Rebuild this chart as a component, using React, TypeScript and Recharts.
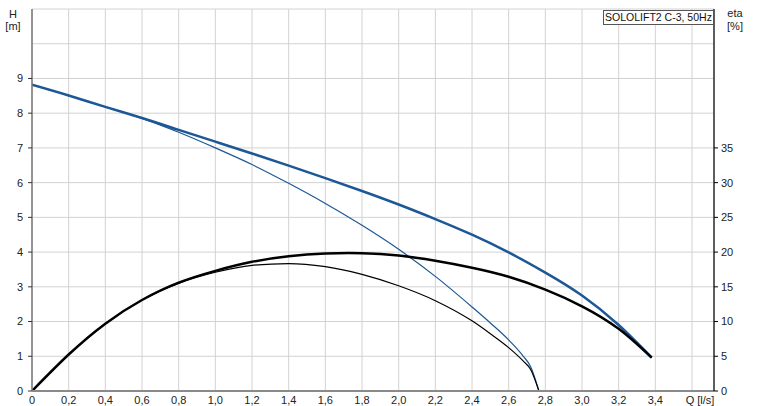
import React from 'react';
import { LineChart, Line, XAxis, YAxis, CartesianGrid, ReferenceLine } from 'recharts';

// Thick curves (QH and efficiency, full-range)
const qThick = [0, 0.2, 0.4, 0.6, 0.8, 1.0, 1.2, 1.4, 1.6, 1.8, 2.0, 2.2, 2.4, 2.6, 2.8, 3.0, 3.2, 3.38];
const hThick = [8.82, 8.51, 8.18, 7.86, 7.52, 7.18, 6.84, 6.49, 6.13, 5.76, 5.37, 4.95, 4.5, 3.99, 3.41, 2.75, 1.9, 0.96];
const etaThick = [0, 5.25, 9.7, 13.1, 15.6, 17.3, 18.6, 19.4, 19.8, 19.85, 19.5, 18.75, 17.75, 16.45, 14.6, 12.2, 8.95, 4.8];

// Thin curves
const qThin = [0, 0.2, 0.4, 0.6, 0.8, 1.0, 1.2, 1.4, 1.6, 1.8, 2.0, 2.2, 2.4, 2.5, 2.6, 2.68, 2.72, 2.765];
const hThin = [8.82, 8.51, 8.18, 7.85, 7.45, 7.0, 6.52, 5.98, 5.4, 4.77, 4.08, 3.3, 2.42, 1.96, 1.47, 1.0, 0.7, 0];
const etaThin = [0, 5.25, 9.7, 13.1, 15.5, 17.1, 18.1, 18.35, 17.9, 16.8, 15.15, 13.0, 10.1, 8.25, 6.25, 4.3, 3.1, 0];

const qTicks = [0, 0.2, 0.4, 0.6, 0.8, 1.0, 1.2, 1.4, 1.6, 1.8, 2.0, 2.2, 2.4, 2.6, 2.8, 3.0, 3.2, 3.4, 3.6];
const hTicks = [0, 1, 2, 3, 4, 5, 6, 7, 8, 9];
const etaTicks = [0, 5, 10, 15, 20, 25, 30, 35];
const title = 'SOLOLIFT2 C-3, 50Hz';
const hLabel = ['H', '[m]'];
const etaLabel = ['eta', '[%]'];
const qLabel = 'Q [l/s]';

const FONT = "'Liberation Sans', Arial, sans-serif";
const BLUE = '#1c5796';
const GRID = '#d2d2d2';

const thickBlue = qThick.map((q, i) => ({ q, h: hThick[i] }));
const thickBlack = qThick.map((q, i) => ({ q, eta: etaThick[i] }));
const thinBlue = qThin.map((q, i) => ({ q, h: hThin[i] }));
const thinBlack = qThin.map((q, i) => ({ q, eta: etaThin[i] }));

const XTick = (props: any) => {
  const { x, y, payload } = props;
  const v = payload.value as number;
  const isLast = v > 3.55;
  const label = isLast ? qLabel : v === 0 ? '0' : v.toFixed(1).replace('.', ',');
  return (
    <text x={x + (isLast ? 8 : 0)} y={y} dy="0.71em" textAnchor="middle" fontSize={11} fill="#222" fontFamily={FONT}>
      {label}
    </text>
  );
};

export default function App() {
  return (
    <div style={{ position: 'absolute', left: 0, top: 0, width: 759, height: 406, background: '#fff', fontFamily: FONT }}>
      <LineChart width={759} height={406} margin={{ top: 9, right: 0, bottom: 0, left: 0 }}>
        <CartesianGrid yAxisId="h" stroke={GRID} strokeWidth={1} />
        <XAxis
          type="number"
          dataKey="q"
          domain={[0, 3.72]}
          ticks={qTicks}
          allowDataOverflow
          height={15}
          tickLine={false}
          tickSize={0}
          tickMargin={5}
          axisLine={{ stroke: '#8a8a8a', strokeWidth: 2 }}
          tick={<XTick />}
          interval={0}
        />
        <YAxis
          yAxisId="h"
          orientation="left"
          width={32}
          domain={[0, 11]}
          ticks={hTicks}
          allowDataOverflow
          tickSize={4}
          tickMargin={5}
          tickLine={{ stroke: '#333' }}
          axisLine={{ stroke: '#777', strokeWidth: 1.5 }}
          tick={{ fontSize: 11, fill: '#222', fontFamily: FONT }}
          interval={0}
        />
        <YAxis
          yAxisId="eta"
          orientation="right"
          width={45}
          domain={[0, 55]}
          ticks={etaTicks}
          allowDataOverflow
          tickSize={4}
          tickMargin={3}
          tickLine={{ stroke: '#000' }}
          axisLine={{ stroke: '#000', strokeWidth: 1.2 }}
          tick={{ fontSize: 11, fill: '#222', fontFamily: FONT, textAnchor: 'start' }}
          interval={0}
        />
        <ReferenceLine yAxisId="h" y={10} stroke={GRID} strokeWidth={1} />
        <Line yAxisId="h" data={thinBlue} dataKey="h" type="monotone" stroke={BLUE} strokeWidth={1.2} dot={false} isAnimationActive={false} />
        <Line yAxisId="eta" data={thinBlack} dataKey="eta" type="monotone" stroke="#000" strokeWidth={1.2} dot={false} isAnimationActive={false} />
        <Line yAxisId="h" data={thickBlue} dataKey="h" type="natural" stroke={BLUE} strokeWidth={2.5} dot={false} isAnimationActive={false} />
        <Line yAxisId="eta" data={thickBlack} dataKey="eta" type="natural" stroke="#000" strokeWidth={2.5} dot={false} isAnimationActive={false} />
      </LineChart>
      <div style={{ position: 'absolute', left: 0, top: 8, width: 26, textAlign: 'center', fontSize: 11, lineHeight: '12px', color: '#222' }}>
        <div>{hLabel[0]}</div>
        <div>{hLabel[1]}</div>
      </div>
      <div style={{ position: 'absolute', left: 722, top: 7, width: 26, textAlign: 'center', fontSize: 11, lineHeight: '13px', color: '#222' }}>
        <div>{etaLabel[0]}</div>
        <div>{etaLabel[1]}</div>
      </div>
      <div
        style={{
          position: 'absolute',
          left: 603,
          top: 10,
          width: 111,
          height: 15,
          boxSizing: 'border-box',
          border: '1px solid #555',
          background: '#fff',
          fontSize: 10.5,
          lineHeight: '13px',
          textAlign: 'center',
          color: '#111',
          whiteSpace: 'nowrap',
        }}
      >
        {title}
      </div>
    </div>
  );
}
